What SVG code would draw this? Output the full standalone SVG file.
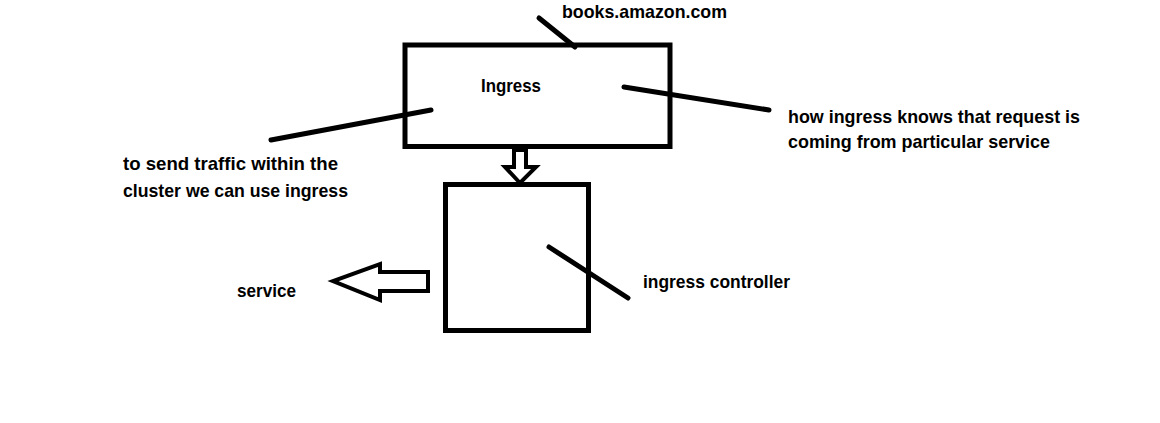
<svg xmlns="http://www.w3.org/2000/svg" width="1160" height="423" viewBox="0 0 1160 423">
<style>
.t{font-family:"Liberation Sans",Arial,sans-serif;font-weight:bold;font-size:19px;fill:#000}
.box{fill:none;stroke:#000;stroke-width:5}
.ln{stroke:#000;stroke-width:5;stroke-linecap:round;fill:none}
.ar{fill:#fff;stroke:#000;stroke-width:4;stroke-linejoin:miter}
</style>
<rect width="1160" height="423" fill="#fff"/>
<g id="ingress">
<rect class="box" x="405" y="45" width="265" height="101.5"/>
<text class="t" x="481" y="92" textLength="60" lengthAdjust="spacingAndGlyphs">Ingress</text>
</g>
<g id="ingress-controller">
<rect class="box" x="445.5" y="184.5" width="143" height="146"/>
</g>
<g id="labels">
<text class="t" x="562" y="18" textLength="165" lengthAdjust="spacingAndGlyphs">books.amazon.com</text>
<text class="t" x="788" y="123" textLength="292" lengthAdjust="spacingAndGlyphs">how ingress knows that request is</text>
<text class="t" x="788" y="148" textLength="262" lengthAdjust="spacingAndGlyphs">coming from particular service</text>
<text class="t" x="123" y="170" textLength="215" lengthAdjust="spacingAndGlyphs">to send traffic within the</text>
<text class="t" x="123" y="197" textLength="225" lengthAdjust="spacingAndGlyphs">cluster we can use ingress</text>
<text class="t" x="237" y="297" textLength="59" lengthAdjust="spacingAndGlyphs">service</text>
<text class="t" x="643" y="288" textLength="147" lengthAdjust="spacingAndGlyphs">ingress controller</text>
</g>
<g id="connectors">
<line class="ln" x1="539" y1="18" x2="575" y2="47"/>
<line class="ln" x1="624" y1="87" x2="769" y2="110"/>
<line class="ln" x1="271" y1="140" x2="431" y2="110"/>
<line class="ln" x1="549" y1="247" x2="628" y2="298"/>
<polygon class="ar" points="514,150 526,150 526,167 536,167 520,183 505,167 514,167"/>
<polygon class="ar" points="428,272 380,272 380,264 333,281 380,300 380,291 428,291"/>
</g>
</svg>
